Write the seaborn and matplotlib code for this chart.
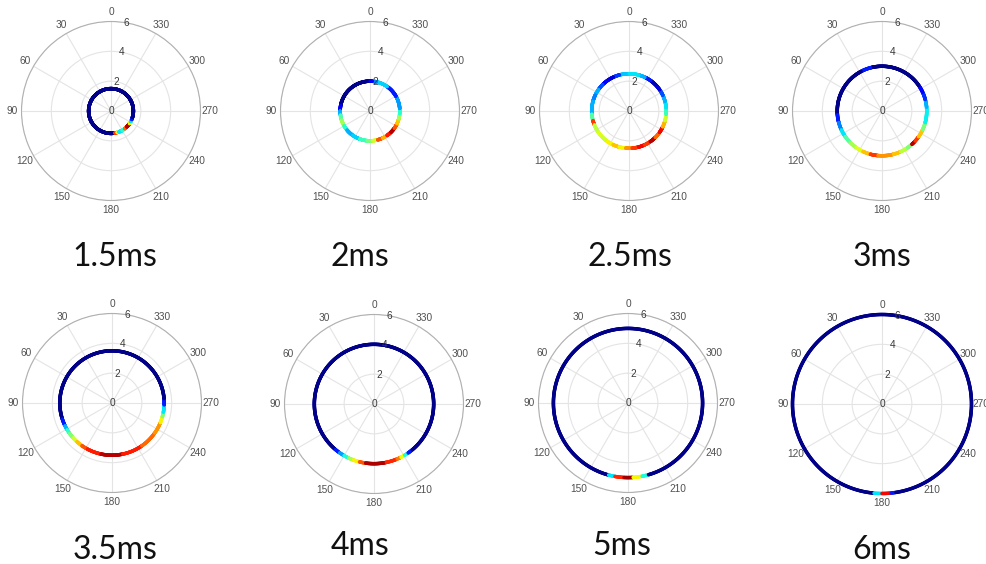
import numpy as np
import pandas as pd
import matplotlib
matplotlib.use("Agg")
import matplotlib.pyplot as plt
import seaborn as sns

sns.set_theme(style="white")
plt.rcParams["font.family"] = ["Liberation Sans", "DejaVu Sans"]

# Snapshot times and the radius of the front at each time
times = ["1.5ms", "2ms", "2.5ms", "3ms", "3.5ms", "4ms", "5ms", "6ms"]
radii = [1.5, 2.0, 2.5, 3.0, 3.5, 4.0, 5.0, 6.0]

# Normalised intensity along the front: value outside the listed arcs,
# then (start_deg, end_deg, value) arcs, angles counter-clockwise from north
base_level = 0.01
arcs_1_5 = [(190, 196, 0.85), (196, 201, 0.62), (201, 210, 0.35), (210, 218, 0.40),
            (218, 225, 0.80), (225, 236, 0.95), (236, 242, 0.65), (242, 248, 0.35),
            (248, 254, 0.15)]
arcs_2 = [(0, 5, 0.06), (80, 90, 0.12), (90, 98, 0.30), (98, 108, 0.45),
          (108, 120, 0.55), (120, 130, 0.40), (130, 145, 0.30), (145, 160, 0.33),
          (160, 175, 0.42), (175, 185, 0.50), (185, 195, 0.60), (195, 205, 0.82),
          (205, 215, 0.72), (215, 225, 0.88), (225, 235, 0.95), (235, 245, 0.82),
          (245, 255, 0.70), (255, 265, 0.55), (265, 275, 0.40), (275, 300, 0.28),
          (300, 325, 0.15), (325, 348, 0.33), (348, 356, 0.25), (356, 360, 0.12)]
arcs_2_5 = [(0, 15, 0.32), (15, 25, 0.18), (25, 35, 0.08), (35, 45, 0.12),
            (45, 55, 0.20), (55, 65, 0.30), (65, 75, 0.25), (75, 95, 0.30),
            (95, 105, 0.45), (105, 112, 0.85), (112, 125, 0.58), (125, 135, 0.62),
            (135, 145, 0.60), (145, 155, 0.65), (155, 165, 0.70), (165, 175, 0.65),
            (175, 185, 0.75), (185, 195, 0.85), (195, 205, 0.90), (205, 215, 0.85),
            (215, 225, 0.95), (225, 235, 0.80), (235, 245, 0.90), (245, 255, 0.72),
            (255, 265, 0.60), (265, 275, 0.42), (275, 285, 0.35), (285, 295, 0.30),
            (295, 305, 0.20), (305, 315, 0.08), (315, 325, 0.05), (325, 335, 0.15),
            (335, 345, 0.30), (345, 360, 0.35)]
arcs_3 = [(15, 28, 0.15), (95, 105, 0.15), (105, 115, 0.25), (115, 125, 0.35),
          (125, 135, 0.45), (135, 145, 0.55), (145, 155, 0.62), (155, 165, 0.70),
          (165, 175, 0.85), (175, 195, 0.75), (195, 205, 0.70), (205, 215, 0.58),
          (215, 222, 0.50), (222, 228, 0.95), (228, 235, 0.85), (235, 245, 0.70),
          (245, 255, 0.50), (255, 275, 0.36), (275, 285, 0.30), (285, 295, 0.17),
          (295, 305, 0.12)]
arcs_3_5 = [(108, 116, 0.15), (116, 121, 0.30), (121, 126, 0.40), (126, 132, 0.50),
            (132, 138, 0.60), (138, 145, 0.70), (145, 152, 0.82), (152, 168, 0.88),
            (168, 192, 0.95), (192, 215, 0.88), (215, 235, 0.80), (235, 248, 0.75),
            (248, 255, 0.65), (255, 260, 0.50), (260, 268, 0.35), (268, 275, 0.15)]
arcs_4 = [(140, 145, 0.15), (145, 150, 0.28), (150, 155, 0.38), (155, 160, 0.55),
          (160, 166, 0.65), (166, 172, 0.82), (172, 192, 0.96), (192, 203, 0.87),
          (203, 207, 0.78), (207, 211, 0.63), (211, 215, 0.38), (215, 220, 0.15)]
arcs_5 = [(165, 170, 0.35), (170, 177, 0.87), (177, 184, 0.97), (184, 191, 0.65),
          (191, 196, 0.38)]
arcs_6 = [(175, 180, 0.35), (180, 186, 0.90), (186, 189, 0.15)]
arcs = [arcs_1_5, arcs_2, arcs_2_5, arcs_3, arcs_3_5, arcs_4, arcs_5, arcs_6]

angle_ticks = list(range(0, 360, 30))
radial_ticks = [0, 2, 4, 6]
r_max = 6

# Figure layout in pixels
W, H = 987, 564
R_PX = 89.5
centers = [(111, 111), (370, 111), (629, 111), (882, 111),
           (112, 403), (374, 404), (628, 403), (882, 404)]
label_pos = [(115, 266), (360, 266), (630, 266), (882, 266),
             (115, 559), (360, 555), (622, 555), (882, 559)]

jet = matplotlib.colormaps["jet"]

fig = plt.figure(figsize=(W / 100, H / 100), dpi=100)
fig.patch.set_facecolor("white")

theta_deg = np.arange(0, 360, 0.5)

for i, (t, r, arc) in enumerate(zip(times, radii, arcs)):
    values = np.full(theta_deg.shape, base_level)
    for a0, a1, v in arc:
        values[(theta_deg >= a0) & (theta_deg < a1)] = v
    df = pd.DataFrame({"theta": np.deg2rad(theta_deg),
                       "r": np.full(theta_deg.shape, r),
                       "value": values})

    cx, cy = centers[i]
    ax = fig.add_axes([(cx - R_PX) / W, 1 - (cy + R_PX) / H, 2 * R_PX / W, 2 * R_PX / H],
                      projection="polar")
    ax.set_facecolor("white")
    ax.set_theta_zero_location("N")
    ax.set_theta_direction(1)

    sns.scatterplot(data=df, x="theta", y="r", hue="value", palette=jet,
                    hue_norm=(0, 1), s=6.5, linewidth=0, legend=False, ax=ax,
                    clip_on=False, zorder=3)
    ax.set_xlabel("")
    ax.set_ylabel("")
    ax.set_ylim(0, r_max)
    ax.set_yticks(radial_ticks[1:])
    ax.set_yticklabels([])
    ax.set_xticks(np.deg2rad(angle_ticks))
    ax.set_xticklabels([])
    ax.tick_params(length=0, pad=0)
    ax.grid(True, color="#e4e4e4", linewidth=0.8)
    ax.spines["polar"].set_color("#b0b0b0")
    ax.spines["polar"].set_linewidth(0.8)

    for a in angle_ticks:
        ax.text(np.deg2rad(a), r_max * 1.11, str(a), ha="center", va="center",
                fontsize=7.3, color="#505050", clip_on=False)
    for rt in radial_ticks:
        ax.text(np.deg2rad(350), rt, str(rt), ha="center", va="center",
                fontsize=7.3, color="#3a3a3a", zorder=5, clip_on=False)

    lx, ly = label_pos[i]
    fig.text(lx / W, 1 - ly / H, t, ha="center", va="baseline",
             fontsize=23, family=["Lato", "DejaVu Sans"], color="#111111")

fig.savefig("out.png", dpi=100, facecolor="white")
